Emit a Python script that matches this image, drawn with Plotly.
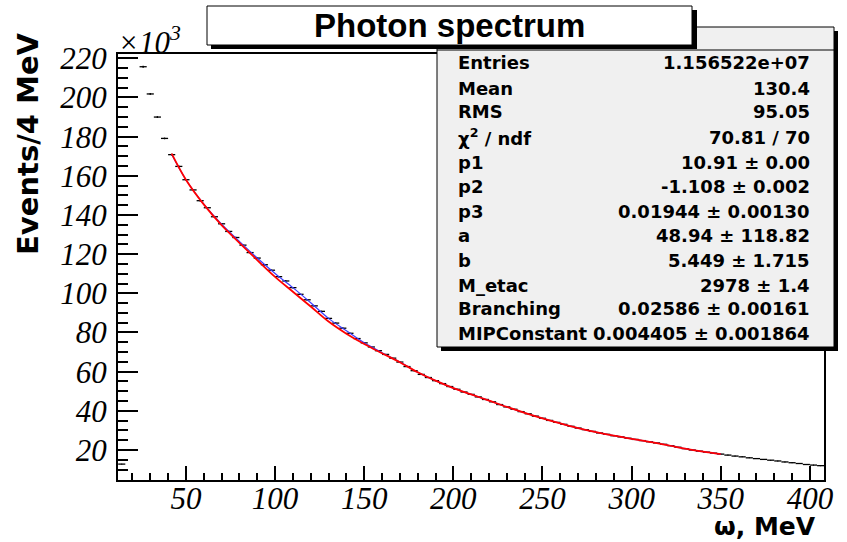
import numpy as np
import plotly.graph_objects as go

#%% Histogram data (bin centres in MeV, contents in 10^3 events / 4 MeV)

omega = [14, 18, 26, 30, 34, 38, 42, 46, 50, 54, 58, 62, 66, 70, 74, 78,
         82, 86, 90, 94, 98, 102, 106, 110, 114, 118, 122, 126, 130, 134,
         138, 142, 146, 150, 154, 158, 162, 166, 170, 174, 178, 182, 186,
         190, 194, 198, 202, 206, 210, 214, 218, 222, 226, 230, 234, 238,
         242, 246, 250, 254, 258, 262, 266, 270, 274, 278, 282, 286, 290,
         294, 298, 302, 306, 310, 314, 318, 322, 326, 330, 334, 338, 342,
         346, 350, 354, 358, 362, 366, 370, 374, 378, 382, 386, 390, 394,
         398, 402, 406]

counts = [12.8, 60.0, 215.7, 201.8, 190.0, 179.1, 170.8, 164.8, 158.0, 152.8,
          147.3, 143.7, 139.1, 135.5, 131.6, 128.5, 124.6, 120.8, 118.0, 114.6,
          111.8, 108.5, 106.3, 102.9, 99.5, 96.7, 93.6, 90.8, 87.2, 84.8,
          82.2, 79.6, 76.9, 74.7, 72.6, 70.7, 68.8, 66.9, 64.9, 62.6,
          60.5, 58.6, 57.0, 55.4, 53.9, 52.4, 51.0, 49.6, 48.4, 47.1,
          45.8, 44.6, 43.2, 42.0, 40.8, 39.6, 38.5, 37.3, 36.2, 35.1,
          34.1, 33.1, 32.1, 31.2, 30.4, 29.5, 28.7, 28.0, 27.3, 26.7,
          26.0, 25.4, 24.8, 24.2, 23.6, 22.9, 22.2, 21.4, 20.7, 20.0,
          19.4, 18.9, 18.4, 17.9, 17.4, 16.9, 16.5, 16.0, 15.6, 15.2,
          14.8, 14.4, 13.9, 13.5, 13.1, 12.6, 12.3, 12.0]

#%% Fit curves

fit_x = [42, 50, 60, 70, 80, 90, 100, 110, 120, 130, 140, 150, 160, 170,
         180, 190, 200, 210, 220, 230, 240, 250, 260, 270, 280, 290, 300,
         310, 320, 330, 340, 350]

fit_bg = [171.3, 158.0, 145.4, 134.8, 125.8, 117.0, 108.4, 100.8, 93.3, 85.6,
          79.4, 74.1, 69.4, 64.8, 59.7, 55.4, 51.6, 48.4, 45.2, 42.0,
          39.0, 36.2, 33.6, 31.2, 29.1, 27.3, 25.7, 24.2, 22.5, 20.7,
          19.2, 17.9]

fit_total = [171.0, 158.0, 145.5, 135.3, 126.5, 118.0, 110.1, 102.9, 95.2, 87.2,
             80.9, 74.7, 69.7, 64.9, 59.7, 55.4, 51.6, 48.4, 45.2, 42.0,
             39.0, 36.2, 33.6, 31.2, 29.1, 27.3, 25.7, 24.2, 22.5, 20.7,
             19.2, 17.9]

#%% Stats box

stat_labels = ['Entries', 'Mean', 'RMS', '\u03c7<sup>2</sup> / ndf', 'p1', 'p2',
               'p3', 'a', 'b', 'M_etac', 'Branching', 'MIPConstant']
stat_values = ['1.156522e+07', '130.4', '95.05', '70.81 / 70',
               '10.91 \u00b1 0.00', '-1.108 \u00b1 0.002',
               '0.01944 \u00b1 0.00130', '48.94 \u00b1 118.82',
               '5.449 \u00b1 1.715', '2978 \u00b1 1.4',
               '0.02586 \u00b1 0.00161', '0.004405 \u00b1 0.001864']
stat_rows_px = [63, 88, 112, 137, 162, 187, 211, 235, 260, 285, 308, 333]

# pixel -> paper helpers (plot area is 118..824 x 54..480)
L, R, T, B = 118, 824, 54, 480
def px(x):
    return (x - L) / (R - L)
def py(y):
    return (B - y) / (B - T)

errs = [np.sqrt(c * 1000.0) / 1000.0 for c in counts]

fig = go.Figure()
fig.add_trace(go.Scatter(
    x=omega, y=counts, mode='markers',
    marker=dict(size=1, color='black'),
    error_x=dict(type='constant', value=2, width=0, thickness=1.3, color='black'),
    error_y=dict(type='data', array=errs, width=0, thickness=1.3, color='black'),
    showlegend=False, cliponaxis=True))
fig.add_trace(go.Scatter(
    x=fit_x, y=fit_total, mode='lines', line=dict(color='#3b3bff', width=1.2, shape='spline'),
    showlegend=False))
fig.add_trace(go.Scatter(
    x=fit_x, y=fit_bg, mode='lines', line=dict(color='#ff0000', width=1.8, shape='spline'),
    showlegend=False))

tickfont = dict(family='Liberation Serif', size=31, style='italic', color='black')

fig.update_layout(
    width=847, height=542,
    margin=dict(l=L, r=847 - R, t=T, b=542 - B, pad=0),
    paper_bgcolor='white', plot_bgcolor='white',
    xaxis=dict(range=[11.9, 407.9], showgrid=False, zeroline=False, automargin=False,
               showline=True, linewidth=2, linecolor='black', mirror=True,
               ticks='inside', ticklen=14, tickwidth=1.5, tickcolor='black',
               tick0=0, dtick=50, tickfont=tickfont, ticklabelstandoff=-10,
               minor=dict(ticks='inside', ticklen=7, tickwidth=1.5,
                          tickcolor='black', dtick=10, tick0=0)),
    yaxis=dict(range=[4.68, 222.2], showgrid=False, zeroline=False, automargin=False,
               showline=True, linewidth=2, linecolor='black', mirror=True,
               ticks='inside', ticklen=20, tickwidth=1.5, tickcolor='black',
               tick0=0, dtick=20, tickfont=tickfont, ticklabelstandoff=3,
               minor=dict(ticks='inside', ticklen=10, tickwidth=1.5,
                          tickcolor='black', dtick=5, tick0=0)),
)

shapes = [
    # stats box with shadow
    dict(type='rect', x0=px(441), x1=px(838), y0=py(351), y1=py(31),
         fillcolor='black', line=dict(width=0)),
    dict(type='rect', x0=px(437), x1=px(834), y0=py(347), y1=py(27),
         fillcolor='#f0f0f0', line=dict(color='black', width=1)),
    dict(type='line', x0=px(437), x1=px(834), y0=py(50), y1=py(50),
         line=dict(color='black', width=1)),
    # title box with shadow
    dict(type='rect', x0=px(211), x1=px(697), y0=py(49), y1=py(10),
         fillcolor='black', line=dict(width=0)),
    dict(type='rect', x0=px(207), x1=px(692), y0=py(45), y1=py(6),
         fillcolor='white', line=dict(color='black', width=1)),
]
for s in shapes:
    s.update(xref='paper', yref='paper', layer='above')
fig.update_layout(shapes=shapes)

ann = []
statfont = dict(family='DejaVu Sans', size=18, weight='bold', color='black')
for lab, val, yy in zip(stat_labels, stat_values, stat_rows_px):
    ann.append(dict(x=px(456), y=py(yy), text=lab, xanchor='left', yanchor='middle',
                    font=statfont))
    ann.append(dict(x=px(812), y=py(yy), text=val, xanchor='right', yanchor='middle',
                    font=statfont))

ann.append(dict(x=px(449), y=py(26), text='Photon spectrum', xanchor='center',
                yanchor='middle',
                font=dict(family='Liberation Sans', size=33, weight='bold', color='black')))
ann.append(dict(x=px(28), y=py(144), text='Events/4 MeV', textangle=-90,
                xanchor='center', yanchor='middle',
                font=dict(family='DejaVu Sans', size=29, weight='bold', color='black')))
ann.append(dict(x=px(818), y=py(526), text='\u03c9, MeV', xanchor='right',
                yanchor='middle',
                font=dict(family='DejaVu Sans', size=25, weight='bold', color='black')))
ann.append(dict(x=px(116), y=py(41), text='\u00d710<sup>3</sup>', xanchor='left',
                yanchor='middle',
                font=dict(family='Liberation Serif', size=31, style='italic', color='black')))
for a in ann:
    a.update(xref='paper', yref='paper', showarrow=False)
fig.update_layout(annotations=ann)

fig.write_html("out.html", config={'displayModeBar': False},
               post_script="document.body.style.margin='0px';")
